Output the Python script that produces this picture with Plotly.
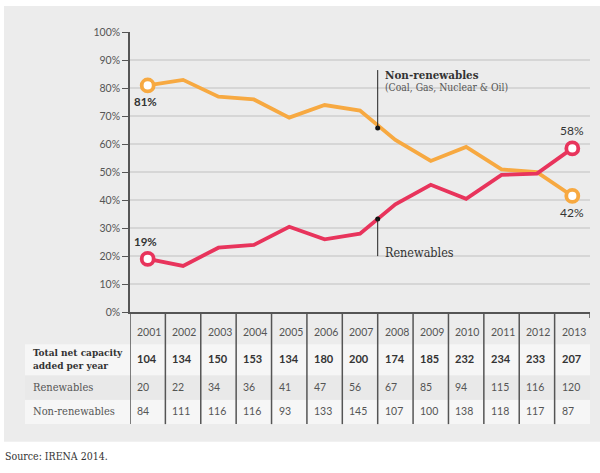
import plotly.graph_objects as go

years = [2001, 2002, 2003, 2004, 2005, 2006, 2007, 2008, 2009, 2010, 2011, 2012, 2013]
renew_share = [19, 16.5, 23, 24, 30.5, 26, 28, 38.5, 45.5, 40.5, 49, 49.5, 58.5]
nonrenew_share = [81, 83, 77, 76, 69.5, 74, 72, 61.5, 54, 59, 51, 50, 41.5]
total_cap = [104, 134, 150, 153, 134, 180, 200, 174, 185, 232, 234, 233, 207]
renew_cap = [20, 22, 34, 36, 41, 47, 56, 67, 85, 94, 115, 116, 120]
nonrenew_cap = [84, 111, 116, 116, 93, 133, 145, 107, 100, 138, 118, 117, 87]
y_ticks = [0, 10, 20, 30, 40, 50, 60, 70, 80, 90, 100]
y_tick_labels = ["0%", "10%", "20%", "30%", "40%", "50%", "60%", "70%", "80%", "90%", "100%"]
row_labels = ["Total net capacity<br>added per year", "Renewables", "Non-renewables"]
start_labels = ["81%", "19%"]
end_labels = ["42%", "58%"]

W, H = 600, 473
ORANGE = "#F7A941"
PINK = "#E8345C"
PANEL = "#ECECEC"
STRIPE = "#F6F6F6"
DARK = "#555555"
SANS = "Lato, Open Sans, sans-serif"
SERIF = "DejaVu Serif Condensed, DejaVu Serif, serif"


def py(p):
    return 1 - p / H


fig = go.Figure()

fig.add_trace(go.Scatter(x=years, y=nonrenew_share, mode="lines",
                         line=dict(color=ORANGE, width=3.8), hoverinfo="skip"))
fig.add_trace(go.Scatter(x=years, y=renew_share, mode="lines",
                         line=dict(color=PINK, width=3.8), hoverinfo="skip"))
fig.add_trace(go.Scatter(x=[years[0], years[-1]], y=[nonrenew_share[0], nonrenew_share[-1]],
                         mode="markers",
                         marker=dict(size=12, color="white", line=dict(color=ORANGE, width=3.8))))
fig.add_trace(go.Scatter(x=[years[0], years[-1]], y=[renew_share[0], renew_share[-1]],
                         mode="markers",
                         marker=dict(size=12, color="white", line=dict(color=PINK, width=3.8))))

ann_x = (years[6] + years[7]) / 2
non_mid = (nonrenew_share[6] + nonrenew_share[7]) / 2 - 1
ren_mid = (renew_share[6] + renew_share[7]) / 2
fig.add_trace(go.Scatter(x=[ann_x, ann_x], y=[non_mid, ren_mid], mode="markers",
                         marker=dict(size=5, color="#111111")))

shapes = []
shapes.append(dict(type="rect", xref="paper", yref="paper", x0=4 / W, x1=1, y0=py(447), y1=1,
                   fillcolor=PANEL, line=dict(width=0), layer="below"))
for (a, b) in [(347, 379), (404, 429)]:
    shapes.append(dict(type="rect", xref="paper", yref="paper", x0=25 / W, x1=590 / W,
                       y0=py(b), y1=py(a), fillcolor=STRIPE, line=dict(width=0), layer="below"))
shapes.append(dict(type="rect", xref="paper", yref="paper", x0=25 / W, x1=590 / W,
                   y0=py(404), y1=py(379), fillcolor="#E9E9E9", line=dict(width=0), layer="below"))
for i, yr in enumerate(years):
    shapes.append(dict(type="line", xref="x", yref="paper", x0=yr - 0.5, x1=yr - 0.5,
                       y0=py(429), y1=py(314), line=dict(color=DARK, width=1.5)))
shapes.append(dict(type="line", xref="x", yref="paper", x0=years[-1] + 0.5, x1=years[-1] + 0.5,
                   y0=py(320), y1=py(314), line=dict(color=DARK, width=1.5)))
shapes.append(dict(type="line", xref="x", yref="y", x0=ann_x, x1=ann_x, y0=non_mid, y1=86.5,
                   line=dict(color="#222222", width=1)))
shapes.append(dict(type="line", xref="x", yref="y", x0=ann_x, x1=ann_x, y0=ren_mid, y1=20,
                   line=dict(color="#222222", width=1)))

annotations = []


def add_text(**kw):
    kw.setdefault("showarrow", False)
    kw.setdefault("yanchor", "middle")
    annotations.append(kw)


add_text(x=ann_x, y=84.8, xref="x", yref="y", xanchor="left", xshift=5,
         text="<b>Non-renewables</b>", font=dict(family=SERIF, size=11.5, color="#333333"))
add_text(x=ann_x, y=80.5, xref="x", yref="y", xanchor="left", xshift=5,
         text="(Coal, Gas, Nuclear & Oil)", font=dict(family=SERIF, size=10.3, color="#555555"))
add_text(x=ann_x, y=21.3, xref="x", yref="y", xanchor="left", xshift=5,
         text="Renewables", font=dict(family=SERIF, size=12.5, color="#333333"))

add_text(x=years[0], y=nonrenew_share[0], yshift=-16, xshift=-2, xref="x", yref="y",
         text="<b>" + start_labels[0] + "</b>", font=dict(family=SANS, size=11.5, color="#333333"))
add_text(x=years[0], y=renew_share[0], yshift=17, xshift=-2, xref="x", yref="y",
         text="<b>" + start_labels[1] + "</b>", font=dict(family=SANS, size=11.5, color="#333333"))
add_text(x=years[-1], y=nonrenew_share[-1], yshift=-17, xref="x", yref="y",
         text=end_labels[0], font=dict(family=SANS, size=12, color="#333333"))
add_text(x=years[-1], y=renew_share[-1], yshift=18, xref="x", yref="y",
         text=end_labels[1], font=dict(family=SANS, size=12, color="#333333"))

for i, yr in enumerate(years):
    add_text(x=yr - 0.5, y=py(334), xref="x", yref="paper", xanchor="left", xshift=5,
             text=str(yr), font=dict(family=SANS, size=10.5, color=DARK))
    add_text(x=yr - 0.5, y=py(362), xref="x", yref="paper", xanchor="left", xshift=5,
             text="<b>" + str(total_cap[i]) + "</b>", font=dict(family=SANS, size=11, color="#333333"))
    add_text(x=yr - 0.5, y=py(391), xref="x", yref="paper", xanchor="left", xshift=5,
             text=str(renew_cap[i]), font=dict(family=SANS, size=10.5, color=DARK))
    add_text(x=yr - 0.5, y=py(416), xref="x", yref="paper", xanchor="left", xshift=5,
             text=str(nonrenew_cap[i]), font=dict(family=SANS, size=10.5, color=DARK))

add_text(x=31 / W, y=py(362), xref="paper", yref="paper", xanchor="left", align="left",
         text="<b>" + row_labels[0].replace("<br>", "</b><br><b>") + "</b>",
         font=dict(family=SERIF, size=10, color="#333333"))
add_text(x=31 / W, y=py(391), xref="paper", yref="paper", xanchor="left",
         text=row_labels[1], font=dict(family=SERIF, size=11, color=DARK))
add_text(x=31 / W, y=py(416), xref="paper", yref="paper", xanchor="left",
         text=row_labels[2], font=dict(family=SERIF, size=11, color=DARK))
add_text(x=3 / W, y=py(462), xref="paper", yref="paper", xanchor="left",
         text="Source: IRENA 2014.", font=dict(family=SERIF, size=10.5, color="#333333"))

fig.update_layout(
    width=W, height=H, autosize=False,
    margin=dict(l=0, r=0, t=0, b=0),
    paper_bgcolor="white", plot_bgcolor="rgba(0,0,0,0)",
    showlegend=False,
    shapes=shapes, annotations=annotations,
    xaxis=dict(domain=[130 / W, 590 / W], range=[years[0] - 0.5, years[-1] + 0.5],
               showticklabels=False, showgrid=False, zeroline=False, ticks="",
               showline=True, linecolor=DARK, linewidth=1.5, fixedrange=True),
    yaxis=dict(domain=[py(314), py(27)], range=[0, 100], tickmode="array",
               tickvals=y_ticks, ticktext=y_tick_labels,
               ticks="outside", ticklen=6, tickcolor=DARK, tickwidth=1,
               showline=True, linecolor=DARK, linewidth=1.5,
               showgrid=True, gridcolor="#D6D6D6", gridwidth=1.5, zeroline=False,
               tickfont=dict(family=SANS, size=10.5, color=DARK), fixedrange=True),
)

fig.write_html("out.html", config={"displayModeBar": False},
               post_script="document.body.style.margin='0';document.body.style.overflow='hidden';")
